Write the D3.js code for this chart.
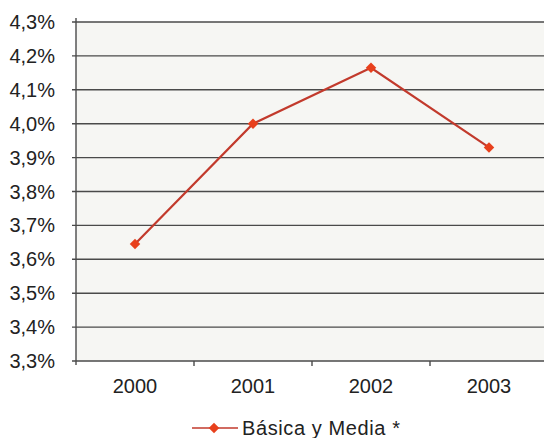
<!DOCTYPE html>
<html>
<head>
<meta charset="utf-8">
<script src="https://cdn.jsdelivr.net/npm/d3@7"></script>
<style>
  body { margin: 0; background: #fff; }
  text { font-family: "Liberation Sans", Arial, sans-serif; fill: #222; }
</style>
</head>
<body>
<div id="chart"></div>
<script>
'use strict';

// data
const years = ['2000', '2001', '2002', '2003'];
const values = [3.645, 4.0, 4.165, 3.93];
const yTicks = [3.3, 3.4, 3.5, 3.6, 3.7, 3.8, 3.9, 4.0, 4.1, 4.2, 4.3];
const seriesName = 'Básica y Media *';

const W = 544, H = 438;
const mLeft = 76, mTop = 22, mBottom = 361, mRight = 548;

const svg = d3.select('#chart').append('svg')
    .attr('width', W)
    .attr('height', H);

const x = d3.scaleBand().domain(years).range([mLeft, mRight]);
const y = d3.scaleLinear().domain([3.3, 4.3]).range([mBottom, mTop]);

// plot background
svg.append('rect')
    .attr('x', mLeft).attr('y', mTop)
    .attr('width', W - mLeft).attr('height', mBottom - mTop)
    .attr('fill', '#f6f6f3');

// gridlines
svg.append('g')
    .selectAll('line')
    .data(yTicks)
    .join('line')
    .attr('x1', mLeft - 4).attr('x2', W)
    .attr('y1', d => y(d)).attr('y2', d => y(d))
    .attr('stroke', '#4a4a4a')
    .attr('stroke-width', 1.4);

// y labels
svg.append('g')
    .selectAll('text')
    .data(yTicks)
    .join('text')
    .attr('x', 55)
    .attr('y', d => y(d))
    .attr('dy', '0.35em')
    .attr('text-anchor', 'end')
    .attr('font-size', 20)
    .text(d => d.toFixed(1).replace('.', ',') + '%');

// y axis line
svg.append('line')
    .attr('x1', mLeft).attr('x2', mLeft)
    .attr('y1', mTop - 4).attr('y2', mBottom + 4)
    .attr('stroke', '#4a4a4a').attr('stroke-width', 1.4);

// x ticks between categories
svg.append('g')
    .selectAll('line')
    .data(years)
    .join('line')
    .attr('x1', d => x(d) + x.bandwidth()).attr('x2', d => x(d) + x.bandwidth())
    .attr('y1', mBottom).attr('y2', mBottom + 5)
    .attr('stroke', '#4a4a4a').attr('stroke-width', 1.4);

// x labels
svg.append('g')
    .selectAll('text')
    .data(years)
    .join('text')
    .attr('x', d => x(d) + x.bandwidth() / 2)
    .attr('y', 393)
    .attr('text-anchor', 'middle')
    .attr('font-size', 20)
    .text(d => d);

// line
const pts = years.map((d, i) => [x(d) + x.bandwidth() / 2, y(values[i])]);
svg.append('path')
    .attr('d', d3.line()(pts))
    .attr('fill', 'none')
    .attr('stroke', '#c23a2c')
    .attr('stroke-width', 2.2);

const diamond = d3.symbol().type(d3.symbolDiamond2).size(70);
svg.append('g')
    .selectAll('path')
    .data(pts)
    .join('path')
    .attr('transform', d => `translate(${d[0]},${d[1]})`)
    .attr('d', diamond)
    .attr('fill', '#e8401c');

// legend
svg.append('line')
    .attr('x1', 192).attr('x2', 238)
    .attr('y1', 428).attr('y2', 428)
    .attr('stroke', '#c23a2c').attr('stroke-width', 1.6);
svg.append('path')
    .attr('transform', 'translate(214,428)')
    .attr('d', diamond)
    .attr('fill', '#e8401c');
svg.append('text')
    .attr('x', 242).attr('y', 435)
    .attr('font-size', 20)
    .attr('letter-spacing', 0.6)
    .text(seriesName);
</script>
</body>
</html>
